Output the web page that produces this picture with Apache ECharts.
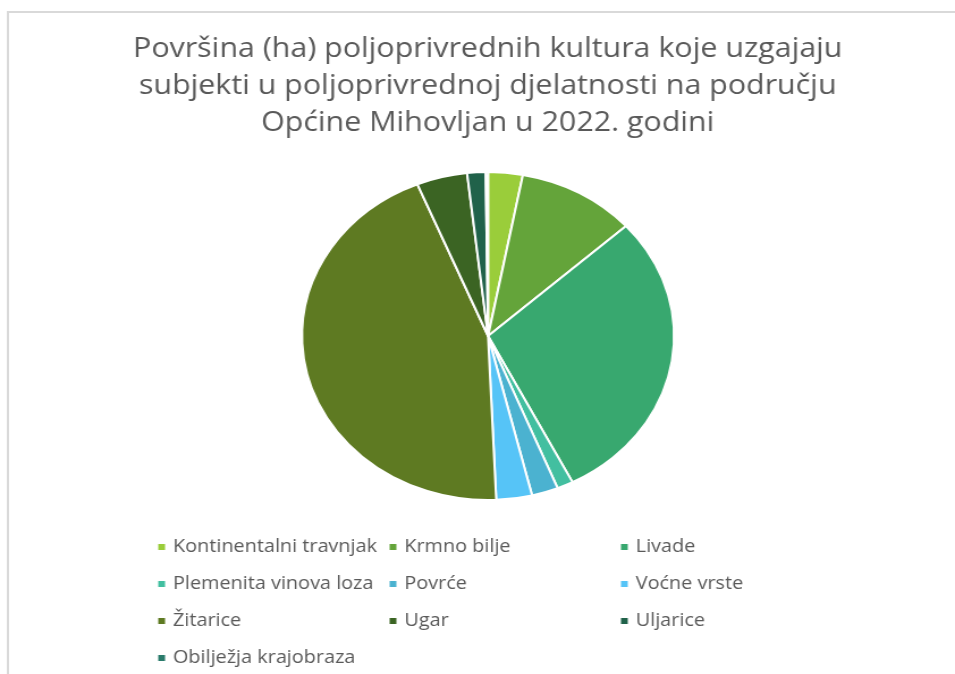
<!DOCTYPE html>
<html>
<head>
<meta charset="utf-8">
<script src="https://cdn.jsdelivr.net/npm/echarts@6/dist/echarts.min.js"></script>
<style>
  html, body { margin: 0; padding: 0; background: #fff; overflow: hidden; }
  /* the original picture is stretched horizontally, so the chart is too */
  #chart { width: 842px; height: 674px; transform: scaleX(1.1342); transform-origin: 0 0; }
</style>
</head>
<body>
<div id="chart"></div>
<script>
// kategorije i površine (ha), procijenjene iz grafikona
const categories = [
  'Kontinentalni travnjak', 'Krmno bilje', 'Livade',
  'Plemenita vinova loza', 'Povrće', 'Voćne vrste',
  'Žitarice', 'Ugar', 'Uljarice',
  'Obilježja krajobraza'
];
const areas = [30, 103, 292, 14, 23, 31, 445, 44, 16, 2];
const colors = [
  '#9acd3a', '#64a43a', '#38a86f',
  '#42bfa0', '#4bb2d0', '#56c4f7',
  '#5e7a22', '#3b6423', '#20624a',
  '#2a7b6b'
];
const titleText = 'Površina (ha) poljoprivrednih kultura koje uzgajaju\n' +
  'subjekti u poljoprivrednoj djelatnosti na području\n' +
  'Općine Mihovljan u 2022. godini';

const myChart = echarts.init(document.getElementById('chart'));

const option = {
  color: colors,
  animation: false,
  graphic: [
    {
      type: 'rect',
      shape: { x: 7, y: 12, width: 860, height: 680 },
      style: { fill: 'none', stroke: '#d9d9d9', lineWidth: 2 }
    }
  ],
  title: {
    text: titleText,
    left: 425,
    top: 26,
    textAlign: 'center',
    textStyle: {
      fontFamily: 'Open Sans',
      fontSize: 26.8,
      fontWeight: 'normal',
      color: '#595959',
      lineHeight: 37
    }
  },
  legend: {
    left: 132.5,
    top: 526,
    width: 640,
    itemWidth: 8,
    itemHeight: 8,
    itemGap: 5,
    icon: 'rect',
    textStyle: {
      fontFamily: 'Open Sans',
      fontSize: 17.5,
      color: '#595959',
      width: 184,
      padding: [0, 0, 0, 1],
      lineHeight: 32
    }
  },
  series: [
    {
      type: 'pie',
      center: [430.3, 336],
      radius: 164,
      startAngle: 90,
      clockwise: true,
      label: { show: false },
      labelLine: { show: false },
      itemStyle: { borderColor: '#fff', borderWidth: 2 },
      data: categories.map((name, i) => ({ name: name, value: areas[i] }))
    }
  ]
};

myChart.setOption(option);
</script>
</body>
</html>
